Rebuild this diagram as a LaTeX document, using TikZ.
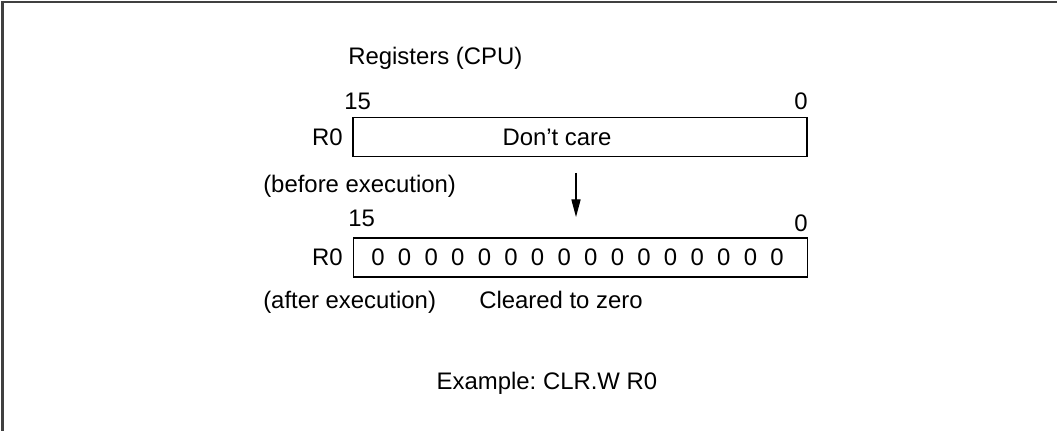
\documentclass[tikz,border=0pt]{standalone}
\usepackage{fontspec}
\setmainfont{Liberation Sans}
\usepackage{tikz}
\usetikzlibrary{arrows.meta, positioning, calc}
\frenchspacing

\begin{document}
\begin{tikzpicture}[x=0.025cm, y=-0.025cm,
    txt/.style={inner sep=0pt, font=\fontsize{17pt}{20pt}\selectfont},
    regbox/.style={draw, line width=0.9pt, minimum width=11.35cm, minimum height=0.97cm, inner sep=0pt},
    bitnum/.style={txt, anchor=base}]
\useasboundingbox (0,0) rectangle (1057,431);
% Frame (only top and left edges show)
\draw[line width=1.8pt, black!75] (2.5,460) -- (2.5,1);
\draw[line width=1.1pt, black!75] (1,2) -- (1080,2);
% Title
\node[txt, anchor=base west] (title) at (348,65) {Registers (CPU)};
% Register before execution
\node[regbox] (regbefore) at (580,137) {};
\node[txt, anchor=base] (care) at (557,146) {Don’t care};
\node[bitnum, anchor=base west] (msbA) at (344,110) {15};
\node[bitnum, anchor=base east] (lsbA) at (808,110) {0};
\node[txt, anchor=base east] (rzeroA) at (343,146) {R0};
\node[txt, anchor=base west] (before) at (263,193) {(before execution)};
% Arrow
\coordinate (arrtop) at (576,173);
\coordinate (arrbot) at (576,217);
\draw[-{Triangle[length=12.5pt, width=6.5pt]}, line width=0.8pt] (arrtop) -- (arrbot);
% Register after execution
\node[regbox] (regafter) at (580.5,257.5) {};
\node[bitnum, anchor=base west] (msbB) at (348,227) {15};
\node[bitnum, anchor=base east] (lsbB) at (808,232) {0};
\node[txt, anchor=base east] (rzeroB) at (343,266) {R0};
\foreach \i in {0,...,15} {
    \node[txt, anchor=base] (z\i) at ({378+\i*26.6},266) {0};
}
\node[txt, anchor=base west] (after) at (263,309) {(after execution)};
\node[txt, anchor=base] (cleared) at (561,309) {Cleared to zero};
% Caption
\node[txt, anchor=base] (example) at (547,389) {Example: CLR.W R0};
\end{tikzpicture}
\end{document}
